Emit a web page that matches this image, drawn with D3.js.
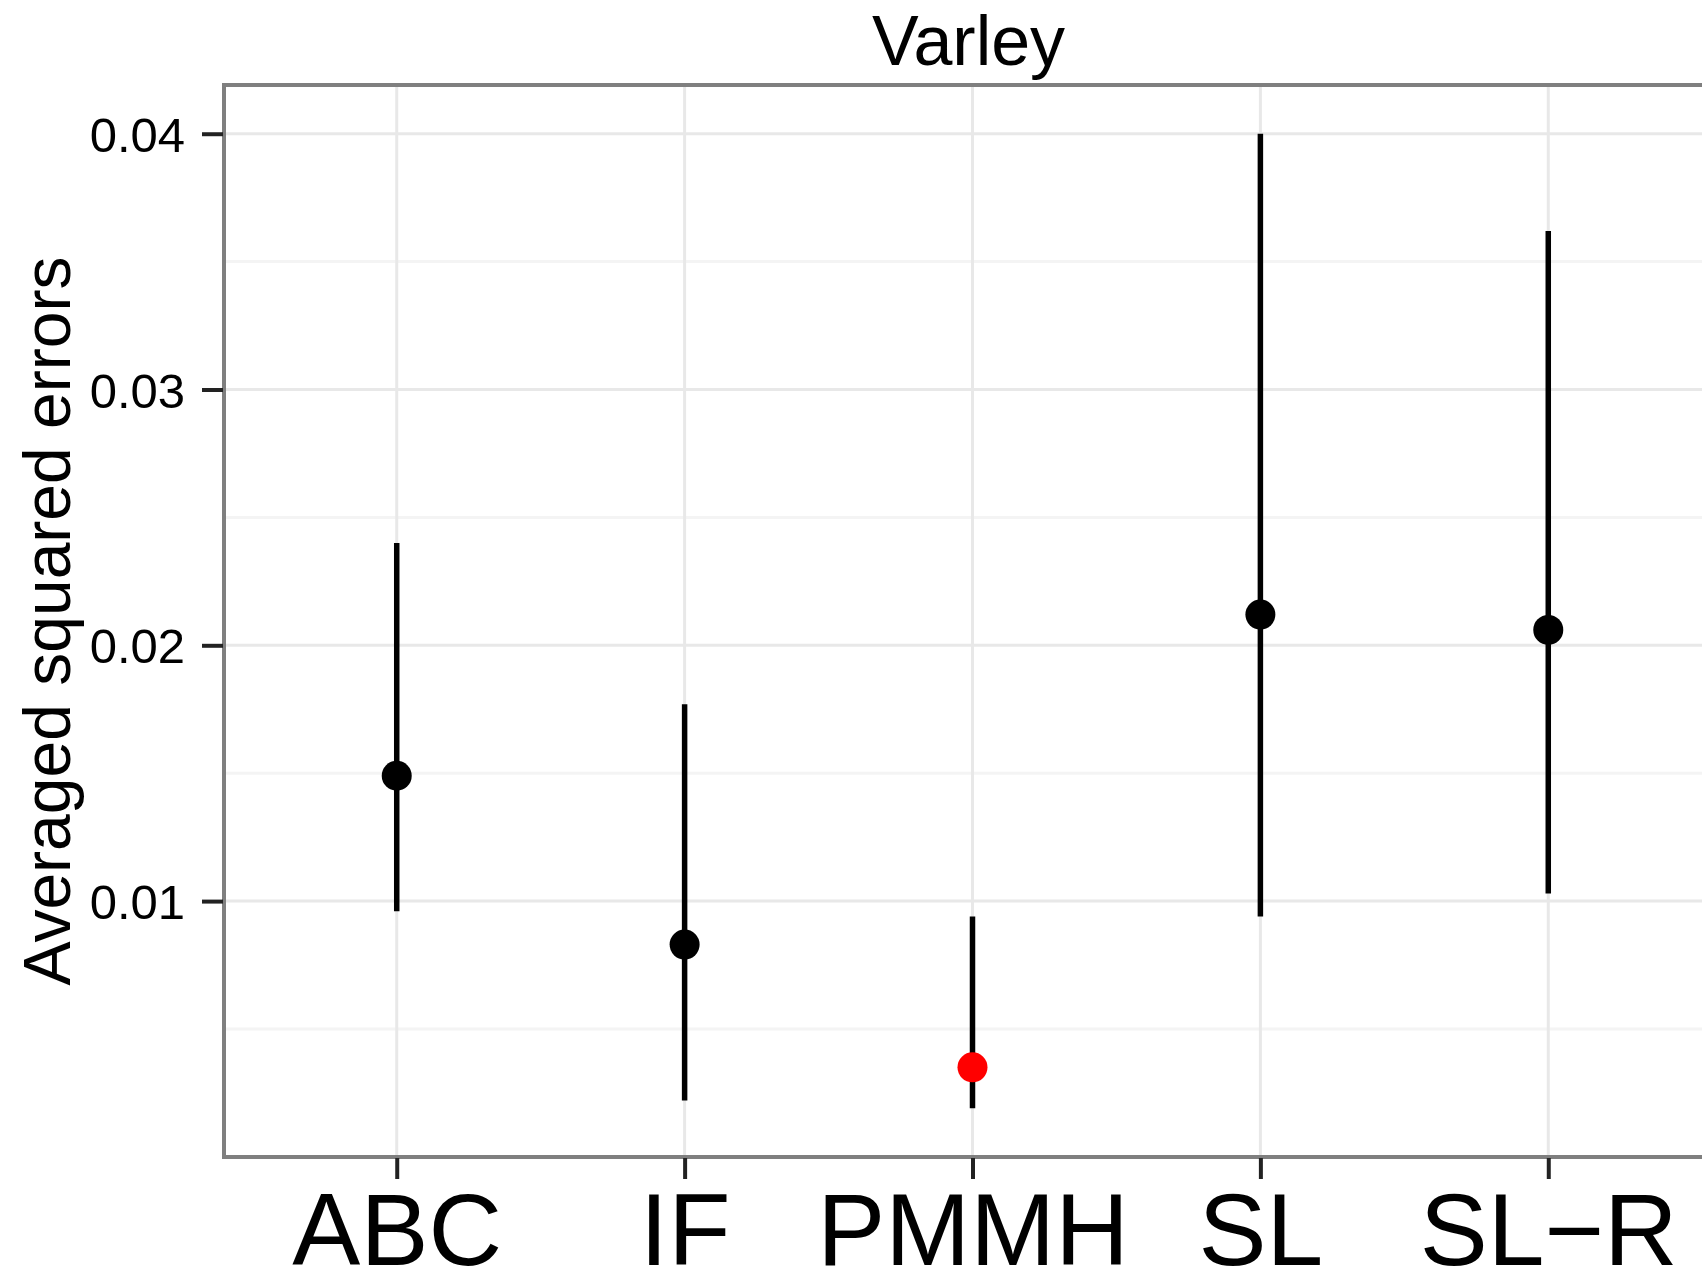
<!DOCTYPE html>
<html>
<head>
<meta charset="utf-8">
<script src="https://cdn.jsdelivr.net/npm/d3@7"></script>
<style>
  body { margin: 0; background: #fff; }
  text { font-family: "Liberation Sans", Arial, Helvetica, sans-serif; fill: #000; }
</style>
</head>
<body>
<div id="chart"></div>
<script>
// Varley - averaged squared errors per method
var methods = ["ABC", "IF", "PMMH", "SL", "SL\u2212R"];
var means   = [0.0149, 0.0083, 0.0035, 0.0212, 0.0206];
var lows    = [0.0096, 0.0022, 0.0019, 0.0094, 0.0103];
var highs   = [0.0240, 0.0177, 0.0094, 0.0400, 0.0362];
var pointColors = ["#000000", "#000000", "#ff0000", "#000000", "#000000"];
var yTicks = [0.01, 0.02, 0.03, 0.04];
var yMinor = [0.005, 0.015, 0.025, 0.035];
var title = "Varley";
var yLabel = "Averaged squared errors";

var w = 1702;
var h = 1277;
var panel = {left: 224, right: 1721, top: 85, bottom: 1157}; // right edge falls off the canvas like the original

var rows = methods.map((m, i) => ({method: m, mean: means[i], lo: lows[i], hi: highs[i], color: pointColors[i]}));

var svg = d3.select("#chart")
    .append("svg")
    .attr("width", w)
    .attr("height", h);

var xScale = d3.scalePoint()
    .domain(methods)
    .range([panel.left, panel.right])
    .padding(0.6);

// ggplot style 5% expansion of the data range
var lo = d3.min(lows), hi = d3.max(highs);
var pad = (hi - lo) * 0.05;
var yScale = d3.scaleLinear()
    .domain([lo - pad, hi + pad])
    .range([panel.bottom, panel.top]);

// grid
var grid = svg.append("g").attr("class", "grid");
grid.selectAll(".minor")
    .data(yMinor)
    .enter()
    .append("line")
    .attr("x1", panel.left).attr("x2", panel.right)
    .attr("y1", d => yScale(d)).attr("y2", d => yScale(d))
    .attr("stroke", "#f4f4f4")
    .attr("stroke-width", 3);
grid.selectAll(".major-y")
    .data(yTicks)
    .enter()
    .append("line")
    .attr("x1", panel.left).attr("x2", panel.right)
    .attr("y1", d => yScale(d)).attr("y2", d => yScale(d))
    .attr("stroke", "#e8e8e8")
    .attr("stroke-width", 3);
grid.selectAll(".major-x")
    .data(methods)
    .enter()
    .append("line")
    .attr("x1", d => xScale(d)).attr("x2", d => xScale(d))
    .attr("y1", panel.top).attr("y2", panel.bottom)
    .attr("stroke", "#e8e8e8")
    .attr("stroke-width", 3);

// error ranges and points
var marks = svg.append("g").attr("class", "marks");
marks.selectAll(".range")
    .data(rows)
    .enter()
    .append("line")
    .attr("class", "range")
    .attr("x1", d => xScale(d.method)).attr("x2", d => xScale(d.method))
    .attr("y1", d => yScale(d.lo)).attr("y2", d => yScale(d.hi))
    .attr("stroke", "#000")
    .attr("stroke-width", 5.5);
marks.selectAll(".pt")
    .data(rows)
    .enter()
    .append("circle")
    .attr("class", "pt")
    .attr("cx", d => xScale(d.method))
    .attr("cy", d => yScale(d.mean))
    .attr("r", 15)
    .attr("fill", d => d.color);

// panel border
svg.append("rect")
    .attr("x", panel.left)
    .attr("y", panel.top)
    .attr("width", panel.right - panel.left)
    .attr("height", panel.bottom - panel.top)
    .attr("fill", "none")
    .attr("stroke", "#7f7f7f")
    .attr("stroke-width", 4);

// axes
var yAxis = d3.axisLeft(yScale)
    .tickValues(yTicks)
    .tickSize(21)
    .tickPadding(17)
    .tickFormat(d3.format(".2f"));
var xAxis = d3.axisBottom(xScale)
    .tickSize(21)
    .tickPadding(14);

var gy = svg.append("g")
    .attr("transform", `translate(${panel.left - 1}, 0)`)
    .call(yAxis);
gy.select(".domain").remove();
gy.selectAll(".tick line").attr("stroke", "#222").attr("stroke-width", 4);
gy.selectAll(".tick text")
    .attr("font-size", 49)
    .attr("dy", "0.36em");

var gx = svg.append("g")
    .attr("transform", `translate(0, ${panel.bottom + 1})`)
    .call(xAxis);
gx.select(".domain").remove();
gx.selectAll(".tick line").attr("stroke", "#222").attr("stroke-width", 4);
gx.selectAll(".tick text")
    .attr("font-size", 102)
    .attr("dy", "0.71em");

// titles
svg.append("text")
    .attr("x", (panel.left + panel.right) / 2 - 4)
    .attr("y", 65)
    .attr("text-anchor", "middle")
    .attr("font-size", 70)
    .text(title);

svg.append("text")
    .attr("transform", `translate(70, ${(panel.top + panel.bottom) / 2}) rotate(-90)`)
    .attr("text-anchor", "middle")
    .attr("font-size", 66)
    .text(yLabel);
</script>
</body>
</html>
